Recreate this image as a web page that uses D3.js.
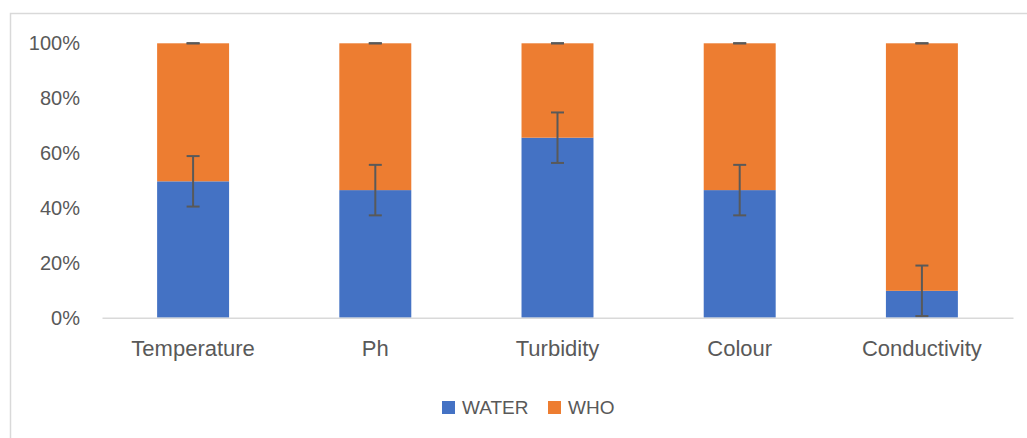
<!DOCTYPE html>
<html>
<head>
<meta charset="utf-8">
<script src="https://cdn.jsdelivr.net/npm/d3@7"></script>
<style>
  body { margin: 0; background: #fff; }
  text { font-family: "Liberation Sans", Arial, sans-serif; fill: #595959; }
</style>
</head>
<body>
<div id="chart"></div>
<script>
// data (percent)
var categories = ["Temperature", "Ph", "Turbidity", "Colour", "Conductivity"];
var water = [49.7, 46.5, 65.6, 46.5, 9.8];
var who = [50.3, 53.5, 34.4, 53.5, 90.2];
var waterErr = [9.2, 9.2, 9.2, 9.2, 9.2];
var whoErr = [0, 0, 0, 0, 0];
var yTicks = [0, 20, 40, 60, 80, 100];
var seriesNames = ["WATER", "WHO"];
var colors = ["#4472C4", "#ED7D31"];

var width = 1027, height = 438;
var plotLeft = 102, plotRight = 1013, plotTop = 43.3, plotBottom = 317.7;

var svg = d3.select("#chart").append("svg")
    .attr("width", width)
    .attr("height", height);

// chart border
svg.append("rect")
    .attr("x", 10.5).attr("y", 13.5)
    .attr("width", 1030).attr("height", 440)
    .attr("fill", "none")
    .attr("stroke", "#D9D9D9")
    .attr("stroke-width", 1.5);

var x = d3.scaleBand()
    .domain(categories)
    .range([plotLeft, plotRight])
    .paddingInner(0.605)
    .paddingOuter(0.3025);

var y = d3.scaleLinear()
    .domain([0, 100])
    .range([plotBottom, plotTop]);

// table for the stack
var table = categories.map(function(c, i) {
    return { cat: c, WATER: water[i], WHO: who[i] };
});
var stacked = d3.stack().keys(seriesNames)(table);

// y axis labels
var yAxis = svg.append("g")
    .attr("transform", "translate(80,0)")
    .call(d3.axisLeft(y).tickValues(yTicks).tickFormat(function(d) { return d + "%"; }).tickSize(0).tickPadding(0));
yAxis.select(".domain").remove();
yAxis.selectAll("text")
    .style("font-family", "Liberation Sans, Arial, sans-serif")
    .style("font-size", "20px")
    .attr("fill", "#595959");

// bars
svg.selectAll(".series")
    .data(stacked)
    .enter()
    .append("g")
    .attr("fill", function(d, i) { return colors[i]; })
    .selectAll("rect")
    .data(function(d) { return d; })
    .enter()
    .append("rect")
    .attr("x", function(d) { return x(d.data.cat); })
    .attr("width", x.bandwidth())
    .attr("y", function(d) { return y(d[1]); })
    .attr("height", function(d) { return y(d[0]) - y(d[1]); });

// x axis
var xAxis = svg.append("g")
    .attr("transform", "translate(0," + plotBottom + ")")
    .call(d3.axisBottom(x).tickSize(0).tickPadding(23));
xAxis.select(".domain")
    .attr("stroke", "#D9D9D9")
    .attr("stroke-width", 1.5);
xAxis.selectAll("text")
    .style("font-family", "Liberation Sans, Arial, sans-serif")
    .style("font-size", "22px")
    .attr("fill", "#595959");

// error bars
var capW = 13;
var errs = [waterErr, whoErr];
stacked.forEach(function(s, k) {
    var g = svg.append("g").attr("stroke", "#595959").attr("stroke-width", 2);
    s.forEach(function(d, i) {
        var cx = x(d.data.cat) + x.bandwidth() / 2;
        var hi = y(d[1] + errs[k][i]);
        var lo = y(d[1] - errs[k][i]);
        g.append("line").attr("x1", cx).attr("x2", cx).attr("y1", hi).attr("y2", lo);
        g.append("line").attr("x1", cx - capW / 2).attr("x2", cx + capW / 2).attr("y1", hi).attr("y2", hi);
        g.append("line").attr("x1", cx - capW / 2).attr("x2", cx + capW / 2).attr("y1", lo).attr("y2", lo);
    });
});

// legend
var legendX = [442, 548];
var legend = svg.append("g");
seriesNames.forEach(function(n, i) {
    legend.append("rect")
        .attr("x", legendX[i]).attr("y", 401)
        .attr("width", 13).attr("height", 13)
        .attr("fill", colors[i]);
    legend.append("text")
        .attr("x", legendX[i] + 20).attr("y", 414)
        .style("font-size", "19px")
        .text(n);
});
</script>
</body>
</html>
